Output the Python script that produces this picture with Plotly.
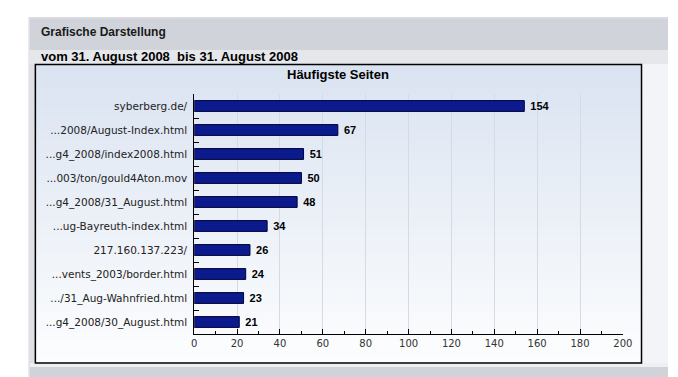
import plotly.graph_objects as go

pages = ["syberberg.de/", "...2008/August-Index.html", "...g4_2008/index2008.html",
         "...003/ton/gould4Aton.mov", "...g4_2008/31_August.html", "...ug-Bayreuth-index.html",
         "217.160.137.223/", "...vents_2003/border.html", ".../31_Aug-Wahnfried.html",
         "...g4_2008/30_August.html"]
hits = [154, 67, 51, 50, 48, 34, 26, 24, 23, 21]
x_ticks = [0, 20, 40, 60, 80, 100, 120, 140, 160, 180, 200]

W, H = 678, 377

def px(x):
    return x / W

def py(y):
    return 1 - y / H

shapes = []

def rect(x0, y0, x1, y1, fill, line=None, lw=0):
    shapes.append(dict(type="rect", xref="paper", yref="paper",
                       x0=px(x0), x1=px(x1), y0=py(y1), y1=py(y0),
                       fillcolor=fill, line=dict(width=lw, color=line or fill),
                       layer="below"))

# page backgrounds
rect(27, 17, 678, 50, "#d0d3d9")
rect(27, 17, 678, 19, "#d9dbe0")
rect(27, 50, 678, 64, "#e5e7eb")
rect(27, 64, 33, 367, "#dfe0e5")
rect(651, 64, 678, 367, "#f3f4f8")
rect(27, 363, 678, 367, "#eeeff3")
rect(27, 367, 678, 377, "#d0d3d9")
shapes.append(dict(type="line", xref="paper", yref="paper", x0=px(26.5), x1=px(26.5),
                   y0=py(17), y1=0, line=dict(color="#d5d6dc", width=1), layer="below"))

# gradient inside the chart box
n = 40
top = (0xda, 0xe3, 0xf1)
bot = (0xfc, 0xfd, 0xfe)
y_start, y_end = 64, 363
for i in range(n):
    t = i / (n - 1)
    c = tuple(round(top[k] + (bot[k] - top[k]) * t) for k in range(3))
    ya = y_start + (y_end - y_start) * i / n
    yb = min(y_end, y_start + (y_end - y_start) * (i + 1) / n + 0.5)
    rect(33, ya, 651, yb, "rgb(%d,%d,%d)" % c)

# chart box border
shapes.append(dict(type="rect", xref="paper", yref="paper",
                   x0=px(33), x1=px(651), y0=py(363), y1=py(64.5),
                   line=dict(color="#000000", width=1.5), fillcolor="rgba(0,0,0,0)",
                   layer="above"))

fig = go.Figure()
fig.add_trace(go.Bar(
    x=hits, y=pages, orientation="h", width=0.45,
    marker=dict(color="#0b1a8c", line=dict(color="#00003c", width=1)),
    text=hits, texttemplate="\u00a0%{text}", textposition="outside",
    constraintext="none",
    textfont=dict(family="Liberation Sans", size=11, color="#000000", weight="bold"),
    cliponaxis=False, hoverinfo="skip",
))

annotations = [
    dict(text="<b>Grafische Darstellung</b>", x=px(37), y=py(32), xref="paper", yref="paper",
         xanchor="left", yanchor="middle", showarrow=False,
         font=dict(family="Liberation Sans", size=12, color="#1a1a1a")),
    dict(text="<b>vom 31. August 2008  bis 31. August 2008</b>", x=px(37), y=py(57),
         xref="paper", yref="paper", xanchor="left", yanchor="middle", showarrow=False,
         font=dict(family="Liberation Sans", size=13, color="#000000")),
    dict(text="<b>Häufigste Seiten</b>", x=px(342), y=py(74.5), xref="paper", yref="paper",
         xanchor="center", yanchor="middle", showarrow=False,
         font=dict(family="Liberation Sans", size=13, color="#000000")),
]

fig.update_layout(
    width=W, height=H, autosize=False,
    margin=dict(l=0, r=0, t=0, b=0),
    paper_bgcolor="#ffffff",
    plot_bgcolor="rgba(0,0,0,0)",
    showlegend=False,
    shapes=shapes,
    annotations=annotations,
    xaxis=dict(
        domain=[px(195), px(632)], range=[0, 200],
        tickvals=x_ticks, ticktext=[str(v) for v in x_ticks],
        ticks="inside", ticklen=5, tickcolor="#000000", tickwidth=1,
        minor=dict(dtick=10, ticks="inside", ticklen=3, tickcolor="#000000", showgrid=False),
        showline=True, linecolor="#000000", linewidth=1,
        showgrid=True, gridcolor="#d6dae2", gridwidth=1,
        zeroline=False,
        tickfont=dict(family="DejaVu Sans", size=10, color="#333333"),
        fixedrange=True,
    ),
    yaxis=dict(
        domain=[py(334), py(94)],
        categoryorder="array", categoryarray=pages, autorange="reversed",
        tickson="boundaries", ticks="inside", ticklen=5, tickcolor="#000000",
        showline=True, linecolor="#000000", linewidth=1,
        showgrid=False, zeroline=False,
        ticklabelstandoff=4,
        tickfont=dict(family="DejaVu Sans", size=10.5, color="#222222"),
        fixedrange=True,
    ),
)

post = """
document.documentElement.style.margin='0px';
document.body.style.margin='0px';
document.body.style.padding='0px';
var gd = document.getElementById('{plot_id}');
gd.style.overflow = 'hidden';
var wrap = gd.parentElement || gd;
wrap.style.position = 'fixed';
wrap.style.left = '0px';
wrap.style.top = '0px';
wrap.style.width = '678px';
wrap.style.height = '377px';
wrap.style.overflow = 'hidden';
document.querySelectorAll('svg').forEach(function(s){ s.style.overflow = 'hidden'; });
document.documentElement.style.overflow = 'hidden';
"""

fig.write_html(
    "out.html",
    config={"responsive": False, "displayModeBar": False, "staticPlot": True},
    post_script=post,
)
